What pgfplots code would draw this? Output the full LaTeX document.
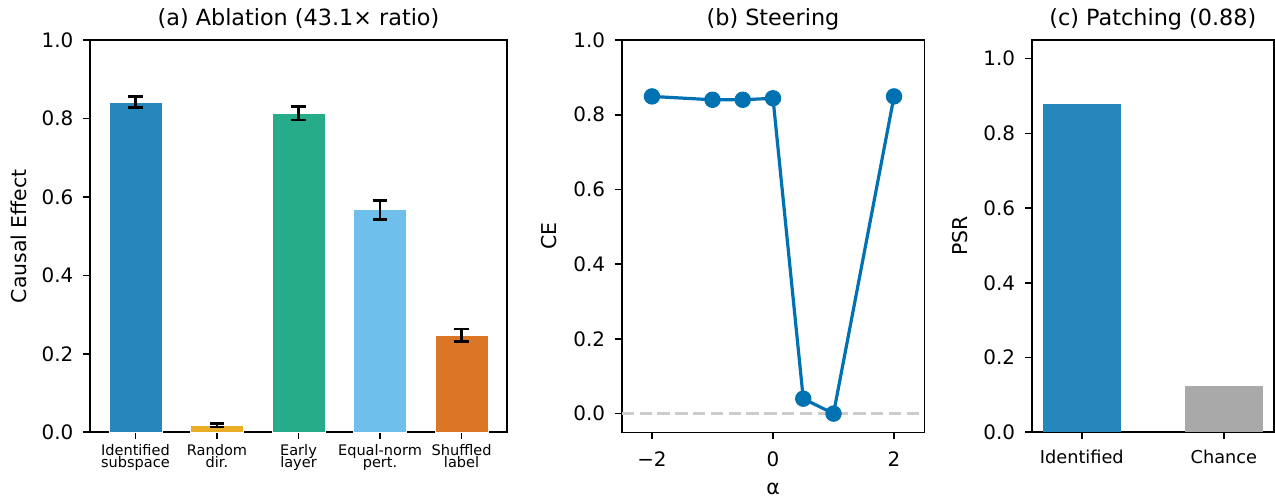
\documentclass[border=0pt]{standalone}
\usepackage{fontspec}
\setmainfont{DejaVu Sans}
\usepackage{pgfplots}
\pgfplotsset{compat=1.18}
\definecolor{cblue}{HTML}{2687BD}
\definecolor{cgold}{HTML}{EAAD26}
\definecolor{cgreen}{HTML}{26AC88}
\definecolor{csky}{HTML}{6FBFEC}
\definecolor{cverm}{HTML}{DB7626}
\definecolor{cline}{HTML}{0072B2}
\definecolor{cgray}{HTML}{A9A9A9}
\definecolor{cdash}{HTML}{CCCCCC}
\pgfplotsset{
  mystyle/.style={
    scale only axis, height=196.15bp,
    axis line style={line width=0.8bp, black},
    tick align=outside, major tick length=3.5bp,
    every tick/.style={line width=0.8bp, black},
    xtick pos=left, ytick pos=left,
    tick label style={font=\fontsize{10}{12}\selectfont},
    yticklabel style={anchor=east, inner sep=0pt, xshift=-4.6bp},
    every axis title/.style={at={(0.5,1)}, anchor=base, yshift=7.3bp, inner sep=0pt, font=\fontsize{11.2}{13}\selectfont},
    every axis y label/.style={rotate=90, anchor=base, inner sep=0pt, font=\fontsize{10.25}{12}\selectfont},
    every axis x label/.style={at={(axis description cs:0.5,0)}, anchor=base, yshift=-30.85bp, inner sep=0pt, font=\fontsize{10.25}{12}\selectfont},
    ytick={0,0.2,0.4,0.6,0.8,1},
    yticklabels={0.0,0.2,0.4,0.6,0.8,1.0},
  },
  errb/.style={error bars/.cd, y dir=both, y explicit,
    error bar style={line width=1.3bp, black},
    error mark options={rotate=90, black, line width=1.3bp, mark size=3.6bp}},
}
\begin{document}
\begin{tikzpicture}
\useasboundingbox (0,0) rectangle (637.5bp,250.5bp);
% (a)
\begin{axis}[mystyle, at={(45bp,34.35bp)}, anchor=south west, width=208.5bp,
  xmin=-0.5575, xmax=4.5575, ymin=0, ymax=1,
  xtick={0,1,2,3,4},
  xticklabels={{Identified\\[-2.9bp]subspace},{Random\\[-2.9bp]dir.},{Early\\[-2.9bp]layer},{Equal-norm\\[-2.9bp]pert.},{Shuffled\\[-2.9bp]label}},
  xticklabel style={align=center, anchor=north, inner sep=0pt, yshift=-2.3bp,
    font=\fontsize{7.3}{8.76}\selectfont},
  title={(a) Ablation (43.1× ratio)},
  ylabel={Causal Effect}, ylabel style={at={(axis description cs:-0.1518,0.5)}}]
\addplot[ybar, bar width=0.65, fill=cblue, draw=white, line width=0.4bp, errb]
  coordinates {(0,0.842) +- (0,0.014)};
\addplot[ybar, bar width=0.65, fill=cgold, draw=white, line width=0.4bp, errb]
  coordinates {(1,0.018) +- (0,0.004)};
\addplot[ybar, bar width=0.65, fill=cgreen, draw=white, line width=0.4bp, errb]
  coordinates {(2,0.813) +- (0,0.017)};
\addplot[ybar, bar width=0.65, fill=csky, draw=white, line width=0.4bp, errb]
  coordinates {(3,0.567) +- (0,0.024)};
\addplot[ybar, bar width=0.65, fill=cverm, draw=white, line width=0.4bp, errb]
  coordinates {(4,0.247) +- (0,0.016)};
\end{axis}
% (b)
\begin{axis}[mystyle, at={(310.85bp,34.35bp)}, anchor=south west, width=151.3bp,
  xmin=-2.5, xmax=2.5, ymin=-0.05, ymax=1,
  xtick={-2,0,2}, xticklabels={−2,0,2},
  xticklabel style={anchor=base, inner sep=0pt, yshift=-13.35bp},
  title={(b) Steering}, xlabel={α},
  ylabel={CE}, ylabel style={at={(axis description cs:-0.2148,0.5)}}]
\addplot[draw=cdash, line width=1.55bp, dash pattern=on 6.2bp off 2.7bp] coordinates {(-2.5,0) (2.5,0)};
\addplot[color=cline, line width=1.6bp, mark=*, mark size=3.3bp, mark options={solid, fill=cline}] coordinates {
  (-2,0.849) (-1,0.840) (-0.5,0.840) (0,0.844) (0.5,0.040) (1,0.0) (2,0.849)};
\end{axis}
% (c)
\begin{axis}[mystyle, at={(515.85bp,34.35bp)}, anchor=south west, width=121.15bp,
  xmin=-0.3525, xmax=1.3525, ymin=0, ymax=1.05,
  xtick={0,1}, xticklabels={Identified,Chance},
  xticklabel style={anchor=base, inner sep=0pt, yshift=-12bp, font=\fontsize{8.9}{10}\selectfont},
  title={(c) Patching (0.88)},
  ylabel={PSR}, ylabel style={at={(axis description cs:-0.2658,0.5)}}]
\addplot[ybar, bar width=0.55, fill=cblue, draw=none] coordinates {(0,0.880)};
\addplot[ybar, bar width=0.55, fill=cgray, draw=none] coordinates {(1,0.125)};
\end{axis}
\end{tikzpicture}
\end{document}
